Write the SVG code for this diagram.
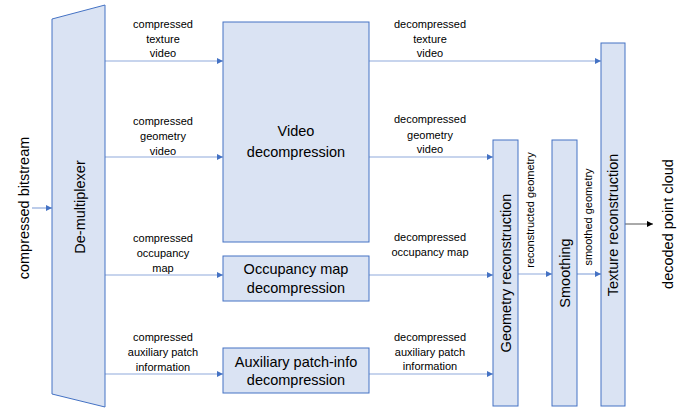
<svg xmlns="http://www.w3.org/2000/svg" width="687" height="409" viewBox="0 0 687 409">
<defs>
<marker id="ah" markerWidth="6" markerHeight="6" refX="6" refY="3" orient="auto" markerUnits="userSpaceOnUse">
<path d="M0,0 L6,3 L0,6 Z" fill="#4472c4"/>
</marker>
<marker id="ahk" markerWidth="6" markerHeight="6" refX="6" refY="3" orient="auto" markerUnits="userSpaceOnUse">
<path d="M0,0 L6,3 L0,6 Z" fill="#000"/>
</marker>
</defs>
<style>
.box{fill:#dae3f3;stroke:#4472c4;stroke-width:1}
.big{font-family:"Liberation Sans",Arial,sans-serif;font-size:14.5px;fill:#000;text-anchor:middle}
.sm{font-family:"Liberation Sans",Arial,sans-serif;font-size:11px;fill:#000;text-anchor:middle}
.c{stroke:#8faadc;stroke-width:1.2;fill:none;marker-end:url(#ah)}
.k{stroke:#555;stroke-width:1;fill:none;marker-end:url(#ahk)}
</style>
<rect width="687" height="409" fill="#fff"/>
<g id="connectors">
<line class="c" x1="32" y1="208" x2="52" y2="208"/>
<line class="c" x1="105" y1="61" x2="223" y2="61"/>
<line class="c" x1="105" y1="157" x2="223" y2="157"/>
<line class="c" x1="105" y1="275" x2="223" y2="275"/>
<line class="c" x1="105" y1="374" x2="223" y2="374"/>
<line class="c" x1="369" y1="61" x2="601" y2="61"/>
<line class="c" x1="369" y1="157" x2="493" y2="157"/>
<line class="c" x1="369" y1="275" x2="493" y2="275"/>
<line class="c" x1="369" y1="374" x2="493" y2="374"/>
<line class="c" x1="518" y1="274" x2="552" y2="274"/>
<line class="c" x1="577" y1="274" x2="601" y2="274"/>
<line class="k" x1="625" y1="224" x2="653" y2="224"/>
<text class="sm" x="163" y="28">compressed</text>
<text class="sm" x="163" y="43">texture</text>
<text class="sm" x="163" y="57">video</text>
<text class="sm" x="163" y="125">compressed</text>
<text class="sm" x="163" y="140">geometry</text>
<text class="sm" x="163" y="155">video</text>
<text class="sm" x="163" y="242">compressed</text>
<text class="sm" x="163" y="257">occupancy</text>
<text class="sm" x="163" y="272">map</text>
<text class="sm" x="163" y="341">compressed</text>
<text class="sm" x="163" y="356">auxiliary patch</text>
<text class="sm" x="163" y="371">information</text>
<text class="sm" x="430" y="28">decompressed</text>
<text class="sm" x="430" y="43">texture</text>
<text class="sm" x="430" y="57">video</text>
<text class="sm" x="430" y="123">decompressed</text>
<text class="sm" x="430" y="139">geometry</text>
<text class="sm" x="430" y="153">video</text>
<text class="sm" x="430" y="241">decompressed</text>
<text class="sm" x="430" y="256">occupancy map</text>
<text class="sm" x="430" y="341">decompressed</text>
<text class="sm" x="430" y="356">auxiliary patch</text>
<text class="sm" x="430" y="370">information</text>
<text class="sm" transform="translate(534,210) rotate(-90)">reconstructed geometry</text>
<text class="sm" transform="translate(592,217) rotate(-90)">smoothed geometry</text>
</g>
<g id="input-label">
<text class="big" transform="translate(29,208) rotate(-90)">compressed bitstream</text>
</g>
<g id="demux">
<polygon class="box" points="52,19 105,5 105,407 52,394"/>
<text class="big" transform="translate(85,207) rotate(-90)">De-multiplexer</text>
</g>
<g id="video">
<rect class="box" x="223" y="22" width="146" height="220"/>
<text class="big" x="296" y="136">Video</text>
<text class="big" x="296" y="157">decompression</text>
</g>
<g id="occupancy">
<rect class="box" x="223" y="256" width="146" height="45"/>
<text class="big" x="296" y="274">Occupancy map</text>
<text class="big" x="296" y="293">decompression</text>
</g>
<g id="auxiliary">
<rect class="box" x="223" y="348" width="146" height="45"/>
<text class="big" x="296" y="367">Auxiliary patch-info</text>
<text class="big" x="296" y="385">decompression</text>
</g>
<g id="geometry">
<rect class="box" x="493" y="140" width="25" height="266"/>
<text class="big" transform="translate(511,273) rotate(-90)">Geometry reconstruction</text>
</g>
<g id="smoothing">
<rect class="box" x="552" y="140" width="25" height="266"/>
<text class="big" transform="translate(570,273) rotate(-90)">Smoothing</text>
</g>
<g id="texture">
<rect class="box" x="601" y="43" width="24" height="363"/>
<text class="big" transform="translate(618,225) rotate(-90)">Texture reconstruction</text>
</g>
<g id="output-label">
<text class="big" transform="translate(673,224) rotate(-90)">decoded point cloud</text>
</g>
</svg>
